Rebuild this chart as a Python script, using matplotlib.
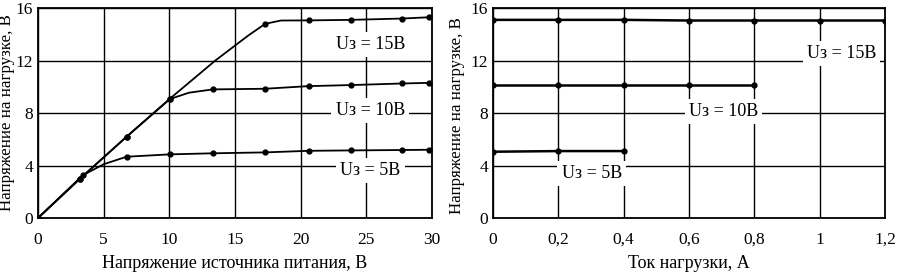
import matplotlib
matplotlib.use('Agg')
import matplotlib.pyplot as plt

plt.rcParams['font.family'] = ['Liberation Serif', 'DejaVu Serif']

# ---- левый график: Uн от напряжения источника ----
x15 = [0, 3.2, 6.75, 10.05, 13.5, 16.0, 17.3, 18.5, 20.6, 23.8, 27.7, 29.8]
y15 = [0, 3.0, 6.2, 9.1, 12.0, 13.9, 14.8, 15.05, 15.06, 15.1, 15.2, 15.3]
m15 = [0, 1, 2, 3, 6, 8, 9, 10, 11]

x10 = [0, 3.2, 6.75, 10.05, 11.5, 13.3, 17.3, 20.6, 23.8, 27.7, 29.8]
y10 = [0, 3.0, 6.2, 9.07, 9.55, 9.8, 9.85, 10.05, 10.13, 10.25, 10.3]
m10 = [0, 1, 2, 3, 5, 6, 7, 8, 9, 10]

x5 = [0, 3.4, 5.0, 6.75, 10.05, 13.3, 17.3, 20.6, 23.8, 27.7, 29.8]
y5 = [0, 3.25, 4.1, 4.67, 4.85, 4.93, 5.0, 5.12, 5.15, 5.18, 5.2]
m5 = [0, 1, 3, 4, 5, 6, 7, 8, 9, 10]

left_labels = ['Uз = 15В', 'Uз = 10В', 'Uз = 5В']
left_lab_pos = [(25.3, 13.2), (25.3, 8.2), (25.3, 3.6)]

# ---- правый график: Uн от тока нагрузки ----
i15 = [0, 0.2, 0.4, 0.6, 0.8, 1.0, 1.2]
u15 = [15.1, 15.1, 15.1, 15.05, 15.05, 15.05, 15.05]
i10 = [0, 0.2, 0.4, 0.6, 0.8]
u10 = [10.1, 10.1, 10.1, 10.1, 10.1]
i5 = [0, 0.2, 0.4]
u5 = [5.05, 5.1, 5.1]

right_labels = ['Uз = 15В', 'Uз = 10В', 'Uз = 5В']
right_lab_pos = [(1.067, 12.55), (0.705, 8.1), (0.302, 3.4)]

FS = 13      # подписи осей и кривых
FS_T = 12.5  # подписи делений
FS_Y = 12.2  # подпись оси Y

fig = plt.figure(figsize=(8.97, 2.73), dpi=100)
ax1 = fig.add_axes([0.0424, 0.2015, 0.4392, 0.769])
ax2 = fig.add_axes([0.5496, 0.2015, 0.437, 0.769])

def style(ax):
    ax.grid(True, color='black', linewidth=1.0)
    ax.set_axisbelow(True)
    for s in ax.spines.values():
        s.set_color('black')
        s.set_linewidth(1.3)
    ax.tick_params(length=0, labelsize=FS_T)
    ax.tick_params(axis='x', pad=10)
    ax.tick_params(axis='y', pad=3.5)
    ax.set_ylim(0, 16)
    ax.set_yticks([0, 4, 8, 12, 16])

def label(ax, txt, xy):
    ax.text(xy[0], xy[1], txt, ha='center', va='center', fontsize=FS,
            bbox=dict(facecolor='white', edgecolor='none', pad=3), zorder=5)

# левый
for xs, ys, mk in [(x15, y15, m15), (x10, y10, m10), (x5, y5, m5)]:
    ax1.plot(xs, ys, '-', color='black', linewidth=1.3, zorder=3)
    ax1.plot([xs[i] for i in mk], [ys[i] for i in mk], 'o', color='black',
             markersize=3.5, zorder=4)
style(ax1)
ax1.set_xlim(0, 30)
ax1.set_xticks([0, 5, 10, 15, 20, 25, 30])
ax1.set_xlabel('Напряжение источника питания, В', fontsize=FS)
ax1.set_ylabel('Напряжение на нагрузке, В', fontsize=FS_Y)
ax1.xaxis.set_label_coords(0.5, -0.175)
ax1.yaxis.set_label_coords(-0.058, 0.5)
for t, p in zip(left_labels, left_lab_pos):
    label(ax1, t, p)

# правый
for xs, ys in [(i15, u15), (i10, u10), (i5, u5)]:
    ax2.plot(xs, ys, '-o', color='black', linewidth=1.8, markersize=3.5, zorder=3)
style(ax2)
ax2.set_xlim(0, 1.2)
ax2.set_xticks([0, 0.2, 0.4, 0.6, 0.8, 1.0, 1.2])
ax2.set_xticklabels(['0', '0,2', '0,4', '0,6', '0,8', '1', '1,2'])
ax2.set_xlabel('Ток нагрузки, А', fontsize=FS)
ax2.set_ylabel('Напряжение на нагрузке, В', fontsize=FS_Y)
ax2.xaxis.set_label_coords(0.5, -0.175)
ax2.yaxis.set_label_coords(-0.072, 0.49)
for t, p in zip(right_labels, right_lab_pos):
    label(ax2, t, p)

fig.savefig('out.png', dpi=100)
